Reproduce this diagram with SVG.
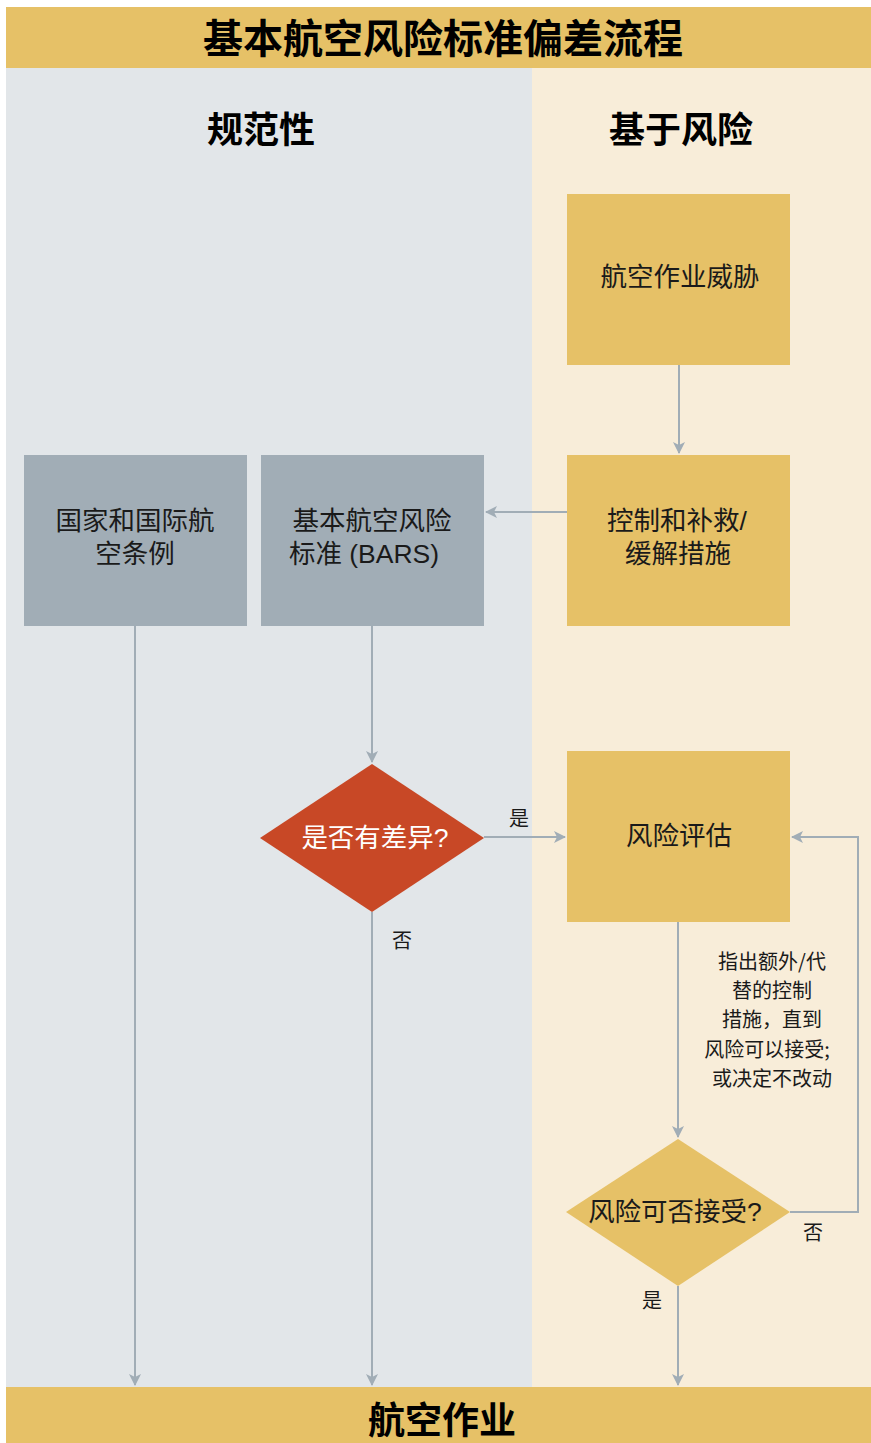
<svg xmlns="http://www.w3.org/2000/svg" width="871" height="1443" viewBox="0 0 871 1443">
<style>
text{font-family:"Noto Sans CJK SC","Noto Sans",sans-serif;text-anchor:middle;fill:#1a1a1a}
.t{font-size:40px;font-weight:700;fill:#000}
.h{font-size:36px;font-weight:700;fill:#000}
.f{font-size:37px;font-weight:700;fill:#000}
.b{font-size:26.5px;font-family:"Liberation Sans","Noto Sans CJK SC",sans-serif}
.w{fill:#fff}
.l{font-size:20px}
.gb{fill:#A1ADB6}
.yb{fill:#E6C167}
.c{stroke:#A1ADB6;stroke-width:2;fill:none}
</style>
<defs>
<marker id="ah" viewBox="0 0 12 12" refX="11" refY="6" markerWidth="12" markerHeight="12" markerUnits="userSpaceOnUse" orient="auto">
<path d="M0,0 L12,6 L0,12 L3,6 Z" fill="#A1ADB6"/>
</marker>
</defs>
<rect x="0" y="0" width="871" height="1443" fill="#fff"/>
<rect x="6" y="68" width="526" height="1320" fill="#E2E6E9"/>
<rect x="532" y="68" width="339" height="1320" fill="#F8EDD9"/>
<g id="header">
<rect x="6" y="7" width="865" height="61" fill="#E6C167"/>
<text class="t" x="443" y="53">基本航空风险标准偏差流程</text>
</g>
<text class="h" x="261" y="143">规范性</text>
<text class="h" x="681" y="143">基于风险</text>
<g id="connectors">
<path class="c" d="M679,365 V453" marker-end="url(#ah)"/>
<path class="c" d="M567,512 H486" marker-end="url(#ah)"/>
<path class="c" d="M372,626 V762" marker-end="url(#ah)"/>
<path class="c" d="M372,912 V1385" marker-end="url(#ah)"/>
<path class="c" d="M135,626 V1385" marker-end="url(#ah)"/>
<path class="c" d="M484,837 H565" marker-end="url(#ah)"/>
<path class="c" d="M678,922 V1137" marker-end="url(#ah)"/>
<path class="c" d="M790,1212 H858 V837 H792" marker-end="url(#ah)"/>
<path class="c" d="M678,1286 V1385" marker-end="url(#ah)"/>
<text class="l" x="519" y="826">是</text>
<text class="l" x="402" y="948">否</text>
<text class="l" x="813" y="1240">否</text>
<text class="l" x="652" y="1308">是</text>
<text class="l" x="772" y="969">指出额外/代<tspan x="772" dy="29">替的控制</tspan><tspan x="772" dy="29">措施，直到</tspan><tspan x="767" dy="30">风险可以接受;</tspan><tspan x="772" dy="29">或决定不改动</tspan></text>
</g>
<g id="threat">
<rect class="yb" x="567" y="194" width="223" height="171"/>
<text class="b" x="680" y="286">航空作业威胁</text>
</g>
<g id="controls">
<rect class="yb" x="567" y="455" width="223" height="171"/>
<text class="b" x="677" y="530">控制和补救/<tspan x="678" dy="33">缓解措施</tspan></text>
</g>
<g id="regs">
<rect class="gb" x="24" y="455" width="223" height="171"/>
<text class="b" x="135" y="530">国家和国际航<tspan x="135" dy="33">空条例</tspan></text>
</g>
<g id="bars">
<rect class="gb" x="261" y="455" width="223" height="171"/>
<text class="b" x="372" y="530">基本航空风险<tspan x="364" dy="33">标准 (BARS)</tspan></text>
</g>
<g id="diff">
<polygon points="372,764 484,838 372,912 260,838" fill="#C84826"/>
<text class="b w" x="375" y="847">是否有差异?</text>
</g>
<g id="assess">
<rect class="yb" x="567" y="751" width="223" height="171"/>
<text class="b" x="679" y="845">风险评估</text>
</g>
<g id="accept">
<polygon points="678,1139 790,1212 678,1286 566,1212" class="yb"/>
<text class="b" x="675" y="1221">风险可否接受?</text>
</g>
<g id="footer">
<rect x="6" y="1387" width="865" height="56" fill="#E6C167"/>
<text class="f" x="442" y="1434">航空作业</text>
</g>
</svg>
